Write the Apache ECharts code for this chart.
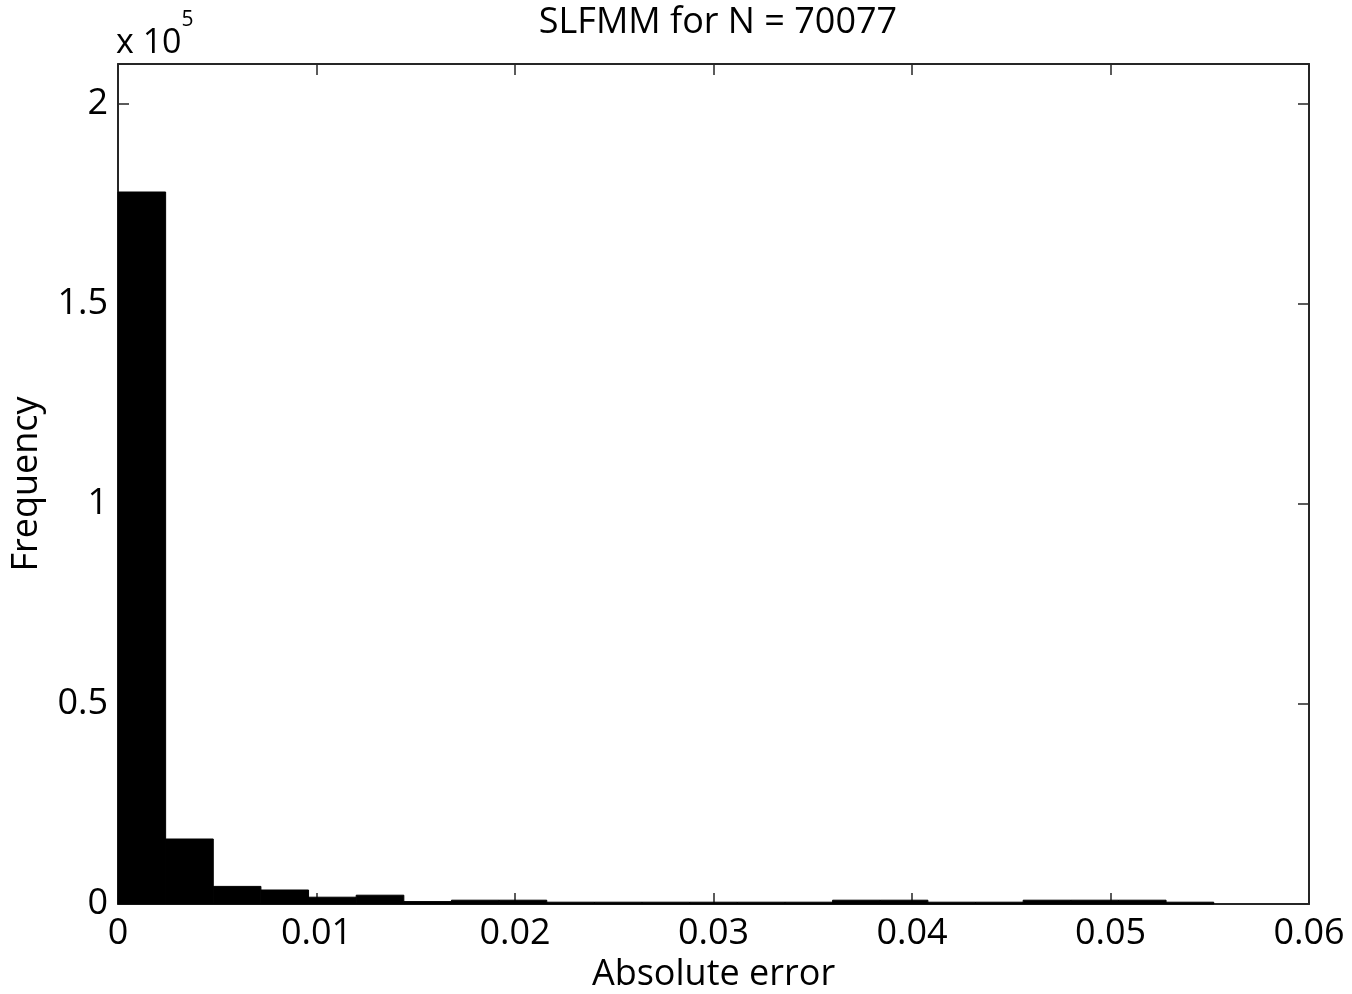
<!DOCTYPE html>
<html>
<head>
<meta charset="utf-8">
<script src="https://cdn.jsdelivr.net/npm/echarts@6/dist/echarts.min.js"></script>
<style>
  html, body { margin: 0; padding: 0; background: #fff; }
  #chart { width: 1352px; height: 994px; }
</style>
</head>
<body>
<div id="chart"></div>
<script>
// histogram bins: edges and counts
const binEdges = [0, 0.0024, 0.0048, 0.0072, 0.0096, 0.012, 0.0144, 0.0168, 0.0192, 0.0216,
  0.024, 0.0264, 0.0288, 0.0312, 0.0336, 0.036, 0.0384, 0.0408, 0.0432, 0.0456,
  0.048, 0.0504, 0.0528, 0.0552];
const counts = [178000, 16250, 4400, 3500, 1700, 2200, 600, 950, 950, 450,
  450, 450, 450, 450, 450, 950, 950, 450, 450, 950,
  950, 950, 450];
const xTicks = [0, 0.01, 0.02, 0.03, 0.04, 0.05, 0.06];
const yTicks = [0, 50000, 100000, 150000, 200000];

const FONT = '"Open Sans"';

const chart = echarts.init(document.getElementById('chart'));

// [left edge, right edge, count]
const histData = counts.map((c, i) => [binEdges[i], binEdges[i + 1], c]);

const tickStyle = { show: true, inside: true, length: 11, lineStyle: { color: '#262626', width: 1.5 } };
const lineStyle = { show: true, onZero: false, lineStyle: { color: '#262626', width: 2 } };

chart.setOption({
  animation: false,
  title: {
    text: 'SLFMM for N = 70077',
    left: 713, top: 0, textAlign: 'center',
    textStyle: { fontFamily: FONT, fontSize: 36, fontWeight: 'normal', color: '#000' }
  },
  graphic: [{
    type: 'text', left: 116, top: 10,
    style: {
      text: '{a|x 10}{b|5}',
      rich: {
        a: { fontFamily: FONT, fontSize: 34, color: '#000', padding: [16, 0, 0, 0] },
        b: { fontFamily: FONT, fontSize: 21, color: '#000', verticalAlign: 'top' }
      }
    }
  }],
  grid: { left: 118, right: 43, top: 64, bottom: 90, containLabel: false, outerBoundsMode: 'none' },
  xAxis: [{
    type: 'value', min: 0, max: 0.06, interval: 0.01,
    name: 'Absolute error', nameLocation: 'middle', nameGap: 52,
    nameTextStyle: { fontFamily: FONT, fontSize: 36, color: '#000' },
    axisLine: lineStyle, axisTick: tickStyle, splitLine: { show: false },
    axisLabel: {
      fontFamily: FONT, fontSize: 36, color: '#000', margin: 12,
      formatter: v => xTicks.some(t => Math.abs(t - v) < 1e-9) ? String(+v.toFixed(2)) : ''
    }
  }, {
    type: 'value', position: 'top', min: 0, max: 0.06, interval: 0.01,
    axisLine: lineStyle, axisTick: tickStyle, axisLabel: { show: false }, splitLine: { show: false }
  }],
  yAxis: [{
    type: 'value', min: 0, max: 210000, interval: 50000,
    name: 'Frequency', nameLocation: 'middle', nameGap: 73,
    nameTextStyle: { fontFamily: FONT, fontSize: 36, color: '#000' },
    axisLine: lineStyle, axisTick: tickStyle, splitLine: { show: false },
    axisLabel: {
      fontFamily: FONT, fontSize: 36, color: '#000', margin: 10,
      formatter: v => yTicks.includes(v) ? String(v / 100000) : ''
    }
  }, {
    type: 'value', position: 'right', min: 0, max: 210000, interval: 50000,
    axisLine: lineStyle, axisTick: tickStyle, axisLabel: { show: false }, splitLine: { show: false }
  }],
  series: [{
    type: 'custom',
    xAxisIndex: 0, yAxisIndex: 0,
    encode: { x: [0, 1], y: 2 },
    data: histData,
    renderItem: (params, api) => {
      const p0 = api.coord([api.value(0), api.value(2)]);
      const p1 = api.coord([api.value(1), 0]);
      return {
        type: 'rect',
        shape: { x: p0[0], y: p0[1], width: p1[0] - p0[0], height: p1[1] - p0[1] },
        style: { fill: '#000', stroke: '#000', lineWidth: 1 }
      };
    }
  }]
});
</script>
</body>
</html>
